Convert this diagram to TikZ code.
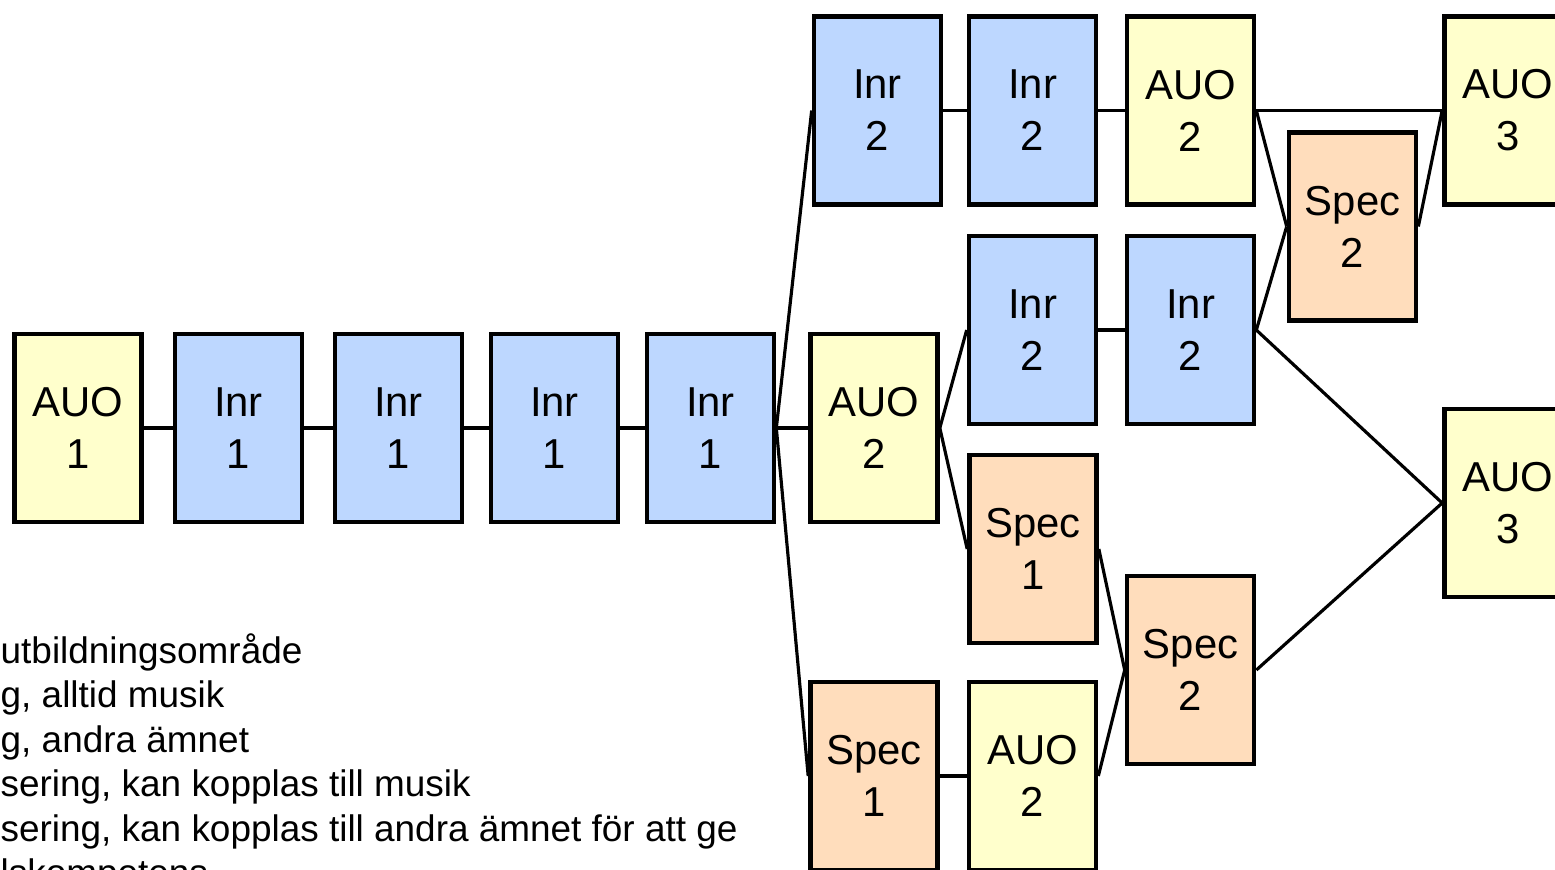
\documentclass[tikz,border=0pt]{standalone}
\usepackage{fontspec}
\setmainfont{Liberation Sans}
\definecolor{auoyellow}{RGB}{255,255,204}
\definecolor{inrblue}{RGB}{189,215,255}
\definecolor{specpeach}{RGB}{255,221,188}

\begin{document}
\begin{tikzpicture}[x=0.01cm,y=-0.01cm,
  box/.style={draw,line width=1.3pt,minimum width=1.27cm,minimum height=1.88cm,
    align=center,font=\fontsize{11.9}{14.8}\selectfont},
  auo/.style={box,fill=auoyellow},
  inr/.style={box,fill=inrblue},
  spec/.style={box,fill=specpeach},
  link/.style={line width=0.9pt}]
\useasboundingbox (0,0) rectangle (1555,869);
\clip (0,0) rectangle (1555,869);

% main row
\node[auo] (auo1) at (78,428) {AUO\\1};
\node[inr] (inr1a) at (238.5,428) {Inr\\1};
\node[inr] (inr1b) at (398.5,428) {Inr\\1};
\node[inr] (inr1c) at (554.5,428) {Inr\\1};
\node[inr] (inr1d) at (710.5,428) {Inr\\1};
\node[auo] (auo2m) at (874,428) {AUO\\2};

% top branch
\node[inr] (inr2ta) at (877.5,110.5) {Inr\\2};
\node[inr] (inr2tb) at (1032.5,110.5) {Inr\\2};
\node[auo] (auo2t) at (1190.5,110.5) {AUO\\2};
\node[spec] (spec2t) at (1352.5,226.5) {Spec\\2};
\node[auo] (auo3t) at (1508,110.5) {AUO\\3};

% middle branch
\node[inr] (inr2ma) at (1032.5,330) {Inr\\2};
\node[inr] (inr2mb) at (1190.5,330) {Inr\\2};
\node[spec] (spec1m) at (1033,549) {Spec\\1};
\node[spec] (spec2b) at (1190.5,670) {Spec\\2};
\node[auo] (auo3m) at (1508,503) {AUO\\3};

% bottom branch
\node[spec] (spec1b) at (874,776) {Spec\\1};
\node[auo] (auo2b) at (1032.5,776) {AUO\\2};

\draw[link] (auo1) -- (inr1a) -- (inr1b) -- (inr1c) -- (inr1d) -- (auo2m);
\draw[link] (inr1d.east) -- (inr2ta.west);
\draw[link] (inr1d.east) -- (spec1b.west);
\draw[link] (inr2ta) -- (inr2tb) -- (auo2t) -- (auo3t);
\draw[link] (auo2t.east) -- (spec2t.west);
\draw[link] (spec2t.east) -- (auo3t.west);
\draw[link] (auo2m.east) -- (inr2ma.west);
\draw[link] (auo2m.east) -- (spec1m.west);
\draw[link] (inr2ma) -- (inr2mb);
\draw[link] (inr2mb.east) -- (spec2t.west);
\draw[link] (inr2mb.east) -- (auo3m.west);
\draw[link] (spec1m.east) -- (spec2b.west);
\draw[link] (spec1b) -- (auo2b);
\draw[link] (auo2b.east) -- (spec2b.west);
\draw[link] (spec2b.east) -- (auo3m.west);

% legend, cut at the left edge
\foreach \txt [count=\i] in {utbildningsområde,{g, alltid musik},{g, andra ämnet},
    {sering, kan kopplas till musik},{sering, kan kopplas till andra ämnet för att ge},
    lskompetens}
  \node[anchor=base west,inner sep=0pt,font=\fontsize{10.5}{12.6}\selectfont]
    (leg\i) at (0,{618.5+44.5*\i}) {\txt};
\end{tikzpicture}
\end{document}
